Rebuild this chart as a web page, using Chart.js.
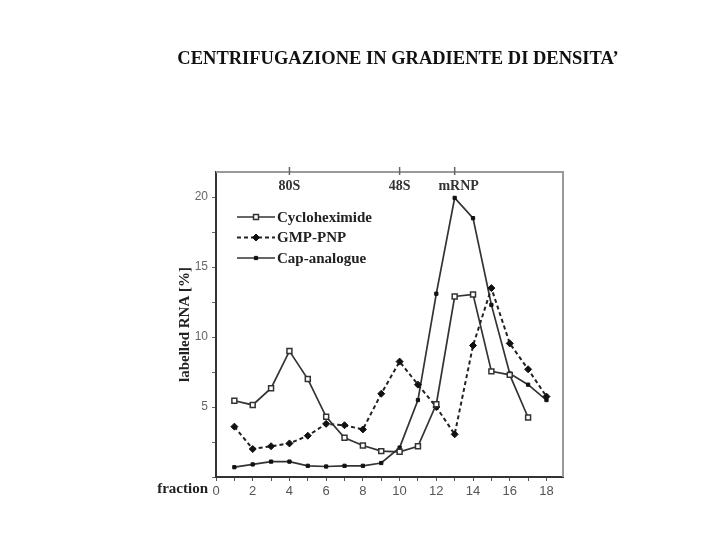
<!DOCTYPE html>
<html>
<head>
<meta charset="utf-8">
<script src="https://cdn.jsdelivr.net/npm/chart.js@4/dist/chart.umd.min.js"></script>
<style>
  html, body { margin: 0; padding: 0; background: #fff; }
  #chart { display: block; }
</style>
</head>
<body>
<canvas id="chart" width="720" height="540"></canvas>
<script>
const title = "CENTRIFUGAZIONE IN GRADIENTE DI DENSITA\u2019";
const fractions = [1, 2, 3, 4, 5, 6, 7, 8, 9, 10, 11, 12, 13, 14, 15, 16, 17, 18];
const cycloheximide = [5.45, 5.15, 6.35, 9.0, 7.0, 4.3, 2.8, 2.25, 1.85, 1.8, 2.2, 5.2, 12.9, 13.05, 7.55, 7.3, 4.25, null];
const gmpPnp = [3.6, 2.0, 2.2, 2.4, 2.95, 3.8, 3.7, 3.4, 5.95, 8.25, 6.6, 5.0, 3.05, 9.4, 13.5, 9.55, 7.7, 5.75];
const capAnalogue = [0.7, 0.9, 1.1, 1.1, 0.8, 0.75, 0.8, 0.8, 1.0, 2.1, 5.5, 13.1, 19.95, 18.5, 12.3, 7.4, 6.6, 5.5];
const seriesNames = ["Cycloheximide", "GMP-PNP", "Cap-analogue"];
const peakLabels = ["80S", "48S", "mRNP"];
const peakFractions = [4, 10, 13];

const lineColor = "#333";
const toPoints = vals => fractions.map((f, i) => ({x: f, y: vals[i]}));

// title, frame, peak markers, in-plot legend, "fraction" label
const decorations = {
  id: "decorations",
  afterDraw(chart) {
    const {ctx, chartArea: a, scales: {x}} = chart;
    ctx.save();
    ctx.fillStyle = "#111";
    ctx.textAlign = "center";
    ctx.textBaseline = "middle";
    ctx.font = 'bold 18.5px "Liberation Serif"';
    ctx.fillText(title, 398, 59);

    // top and right border of the frame
    ctx.strokeStyle = "#999";
    ctx.lineWidth = 2;
    ctx.beginPath();
    ctx.moveTo(a.left, a.top);
    ctx.lineTo(a.right, a.top);
    ctx.lineTo(a.right, a.bottom);
    ctx.stroke();

    // peak labels
    ctx.strokeStyle = "#666";
    ctx.lineWidth = 1.5;
    ctx.font = 'bold 14px "Liberation Serif"';
    ctx.fillStyle = "#333";
    peakFractions.forEach((f, i) => {
      const px = x.getPixelForValue(f);
      ctx.beginPath();
      ctx.moveTo(px, a.top - 5);
      ctx.lineTo(px, a.top + 3);
      ctx.stroke();
      ctx.fillText(peakLabels[i], px + (i === 2 ? 4 : 0), a.top + 14);
    });

    // x label at the left of the tick labels
    ctx.textAlign = "right";
    ctx.font = 'bold 15px "Liberation Serif"';
    ctx.fillStyle = "#222";
    ctx.fillText("fraction", a.left - 8, a.bottom + 12);

    // legend inside the plot
    ctx.textAlign = "left";
    chart.data.datasets.forEach((ds, i) => {
      const y = a.top + 45 + i * 20.5;
      const x0 = a.left + 21, x1 = a.left + 59;
      ctx.strokeStyle = ds.borderColor;
      ctx.lineWidth = ds.borderWidth;
      ctx.setLineDash(ds.borderDash || []);
      ctx.beginPath();
      ctx.moveTo(x0, y);
      ctx.lineTo(x1, y);
      ctx.stroke();
      ctx.setLineDash([]);
      ctx.fillStyle = ds.pointBackgroundColor;
      ctx.strokeStyle = ds.pointBorderColor;
      ctx.lineWidth = ds.pointBorderWidth;
      Chart.helpers.drawPoint(ctx, {pointStyle: ds.pointStyle, radius: ds.pointRadius, borderWidth: ds.pointBorderWidth, rotation: 0}, (x0 + x1) / 2, y);
      ctx.fillStyle = "#222";
      ctx.fillText(ds.label, x1 + 2, y + 1);
    });
    ctx.restore();
  }
};

new Chart(document.getElementById("chart"), {
  type: "line",
  data: {
    datasets: [
      {
        label: seriesNames[0],
        data: toPoints(cycloheximide),
        borderColor: lineColor,
        borderWidth: 1.7,
        pointStyle: "rect",
        pointRadius: 3.5,
        pointBackgroundColor: "#fff",
        pointBorderColor: lineColor,
        pointBorderWidth: 1.5,
        spanGaps: false,
      },
      {
        label: seriesNames[1],
        data: toPoints(gmpPnp),
        borderColor: "#222",
        borderWidth: 2,
        borderDash: [4, 3],
        pointStyle: "rectRot",
        pointRadius: 3.5,
        pointBackgroundColor: "#111",
        pointBorderColor: "#111",
        pointBorderWidth: 1,
      },
      {
        label: seriesNames[2],
        data: toPoints(capAnalogue),
        borderColor: lineColor,
        borderWidth: 1.7,
        pointStyle: "rect",
        pointRadius: 2.3,
        pointBackgroundColor: "#111",
        pointBorderColor: "#111",
        pointBorderWidth: 1,
      },
    ],
  },
  options: {
    responsive: false,
    animation: false,
    devicePixelRatio: 1,
    layout: {padding: {left: 176, right: 157, top: 172, bottom: 33}},
    plugins: {
      legend: {display: false},
      tooltip: {enabled: false},
    },
    elements: {line: {tension: 0}},
    scales: {
      x: {
        type: "linear",
        min: 0,
        max: 18.9,
        afterFit: s => { s.height = 30; },
        border: {color: "#333", width: 2},
        grid: {drawOnChartArea: false, tickLength: 4, color: "#555"},
        ticks: {
          stepSize: 1,
          includeBounds: false,
          autoSkip: false,
          maxRotation: 0,
          padding: 3,
          color: "#555",
          font: {family: '"Liberation Sans"', size: 13},
          callback: v => (v % 2 === 0 ? v : ""),
        },
      },
      y: {
        min: 0,
        max: 21.8,
        afterFit: s => { s.width = 40; },
        border: {color: "#333", width: 2},
        grid: {drawOnChartArea: false, tickLength: 4, color: "#666"},
        title: {
          display: true,
          text: "labelled RNA [%]",
          color: "#222",
          font: {family: '"Liberation Serif"', size: 15, weight: "bold"},
          padding: 0,
        },
        ticks: {
          stepSize: 2.5,
          includeBounds: false,
          padding: 4,
          color: "#666",
          font: {family: '"Liberation Sans"', size: 12},
          callback: v => (v > 0 && v % 5 === 0 ? v : ""),
        },
      },
    },
  },
  plugins: [decorations],
});
</script>
</body>
</html>
